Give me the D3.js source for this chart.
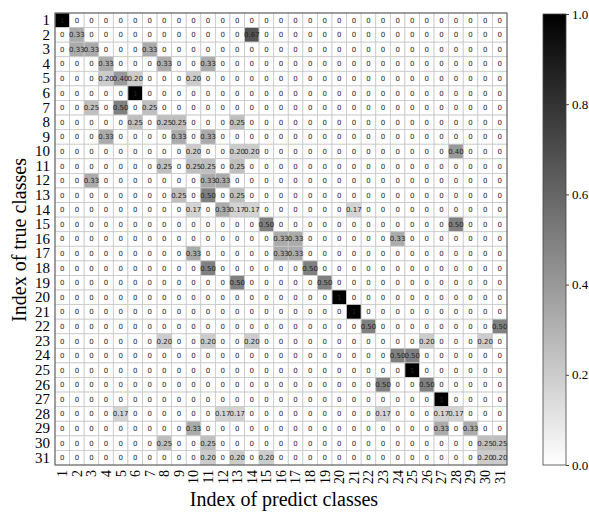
<!DOCTYPE html>
<html><head><meta charset="utf-8">
<script src="https://cdn.jsdelivr.net/npm/d3@7"></script>
<style>body{margin:0;background:#fff}</style>
</head><body>
<script>
const classLabels = ["1","2","3","4","5","6","7","8","9","10","11","12","13","14","15","16","17","18","19","20","21","22","23","24","25","26","27","28","29","30","31"];
// confusion matrix rows (true class) x columns (predicted class)
const matrix = [
[1,0,0,0,0,0,0,0,0,0,0,0,0,0,0,0,0,0,0,0,0,0,0,0,0,0,0,0,0,0,0],
[0,0.33,0,0,0,0,0,0,0,0,0,0,0,0.67,0,0,0,0,0,0,0,0,0,0,0,0,0,0,0,0,0],
[0,0.33,0.33,0,0,0,0.33,0,0,0,0,0,0,0,0,0,0,0,0,0,0,0,0,0,0,0,0,0,0,0,0],
[0,0,0,0.33,0,0,0,0.33,0,0,0.33,0,0,0,0,0,0,0,0,0,0,0,0,0,0,0,0,0,0,0,0],
[0,0,0,0.20,0.40,0.20,0,0,0,0.20,0,0,0,0,0,0,0,0,0,0,0,0,0,0,0,0,0,0,0,0,0],
[0,0,0,0,0,1,0,0,0,0,0,0,0,0,0,0,0,0,0,0,0,0,0,0,0,0,0,0,0,0,0],
[0,0,0.25,0,0.50,0,0.25,0,0,0,0,0,0,0,0,0,0,0,0,0,0,0,0,0,0,0,0,0,0,0,0],
[0,0,0,0,0,0.25,0,0.25,0.25,0,0,0,0.25,0,0,0,0,0,0,0,0,0,0,0,0,0,0,0,0,0,0],
[0,0,0,0.33,0,0,0,0,0.33,0,0.33,0,0,0,0,0,0,0,0,0,0,0,0,0,0,0,0,0,0,0,0],
[0,0,0,0,0,0,0,0,0,0.20,0,0,0.20,0.20,0,0,0,0,0,0,0,0,0,0,0,0,0,0.40,0,0,0],
[0,0,0,0,0,0,0,0.25,0,0.25,0.25,0,0.25,0,0,0,0,0,0,0,0,0,0,0,0,0,0,0,0,0,0],
[0,0,0.33,0,0,0,0,0,0,0,0.33,0.33,0,0,0,0,0,0,0,0,0,0,0,0,0,0,0,0,0,0,0],
[0,0,0,0,0,0,0,0,0.25,0,0.50,0,0.25,0,0,0,0,0,0,0,0,0,0,0,0,0,0,0,0,0,0],
[0,0,0,0,0,0,0,0,0,0.17,0,0.33,0.17,0.17,0,0,0,0,0,0,0.17,0,0,0,0,0,0,0,0,0,0],
[0,0,0,0,0,0,0,0,0,0,0,0,0,0,0.50,0,0,0,0,0,0,0,0,0,0,0,0,0.50,0,0,0],
[0,0,0,0,0,0,0,0,0,0,0,0,0,0,0,0.33,0.33,0,0,0,0,0,0,0.33,0,0,0,0,0,0,0],
[0,0,0,0,0,0,0,0,0,0.33,0,0,0,0,0,0.33,0.33,0,0,0,0,0,0,0,0,0,0,0,0,0,0],
[0,0,0,0,0,0,0,0,0,0,0.50,0,0,0,0,0,0,0.50,0,0,0,0,0,0,0,0,0,0,0,0,0],
[0,0,0,0,0,0,0,0,0,0,0,0,0.50,0,0,0,0,0,0.50,0,0,0,0,0,0,0,0,0,0,0,0],
[0,0,0,0,0,0,0,0,0,0,0,0,0,0,0,0,0,0,0,1,0,0,0,0,0,0,0,0,0,0,0],
[0,0,0,0,0,0,0,0,0,0,0,0,0,0,0,0,0,0,0,0,1,0,0,0,0,0,0,0,0,0,0],
[0,0,0,0,0,0,0,0,0,0,0,0,0,0,0,0,0,0,0,0,0,0.50,0,0,0,0,0,0,0,0,0.50],
[0,0,0,0,0,0,0,0.20,0,0,0.20,0,0,0.20,0,0,0,0,0,0,0,0,0,0,0,0.20,0,0,0,0.20,0],
[0,0,0,0,0,0,0,0,0,0,0,0,0,0,0,0,0,0,0,0,0,0,0,0.50,0.50,0,0,0,0,0,0],
[0,0,0,0,0,0,0,0,0,0,0,0,0,0,0,0,0,0,0,0,0,0,0,0,1,0,0,0,0,0,0],
[0,0,0,0,0,0,0,0,0,0,0,0,0,0,0,0,0,0,0,0,0,0,0.50,0,0,0.50,0,0,0,0,0],
[0,0,0,0,0,0,0,0,0,0,0,0,0,0,0,0,0,0,0,0,0,0,0,0,0,0,1,0,0,0,0],
[0,0,0,0,0.17,0,0,0,0,0,0,0.17,0.17,0,0,0,0,0,0,0,0,0,0.17,0,0,0,0.17,0.17,0,0,0],
[0,0,0,0,0,0,0,0,0,0.33,0,0,0,0,0,0,0,0,0,0,0,0,0,0,0,0,0.33,0,0.33,0,0],
[0,0,0,0,0,0,0,0.25,0,0,0.25,0,0,0,0,0,0,0,0,0,0,0,0,0,0,0,0,0,0,0.25,0.25],
[0,0,0,0,0,0,0,0,0,0,0.20,0,0.20,0,0.20,0,0,0,0,0,0,0,0,0,0,0,0,0,0,0.20,0.20]
];
const colorbarTicks = [0, 0.2, 0.4, 0.6, 0.8, 1.0];
const xTitle = "Index of predict classes";
const yTitle = "Index of true classes";

const W = 589, H = 514;
const svg = d3.select("body").append("svg").attr("width", W).attr("height", H);
const serif = "'Liberation Serif','Times New Roman',serif";

const x = d3.scaleBand().domain(classLabels).range([55, 507]);
const y = d3.scaleBand().domain(classLabels).range([13, 465]);
const color = d3.scaleLinear().domain([0, 1]).range(["#ffffff", "#000000"]);

const cells = [];
matrix.forEach((row, i) => row.forEach((v, j) => cells.push({r: classLabels[i], c: classLabels[j], v})));

const g = svg.append("g");
g.selectAll("rect.cell").data(cells).enter().append("rect")
  .attr("class", "cell")
  .attr("x", d => x(d.c)).attr("y", d => y(d.r))
  .attr("width", x.bandwidth()).attr("height", y.bandwidth())
  .attr("fill", d => color(d.v))
  .attr("stroke", "#c8c8c8").attr("stroke-width", 0.8);

const fmt = v => v === 0 ? "0" : (v === 1 ? "1" : v.toFixed(2));
g.selectAll("text.val").data(cells).enter().append("text")
  .attr("x", d => x(d.c) + x.bandwidth() / 2)
  .attr("y", d => y(d.r) + y.bandwidth() / 2)
  .attr("dy", "0.35em")
  .attr("text-anchor", "middle")
  .attr("font-family", "'DejaVu Sans',sans-serif")
  .attr("font-size", 7)
  .attr("fill", "#222")
  .text(d => fmt(d.v));

// border
svg.append("rect").attr("x", 55).attr("y", 13).attr("width", 452).attr("height", 452)
  .attr("fill", "none").attr("stroke", "#555").attr("stroke-width", 1);

// y axis labels
const yAxis = d3.axisLeft(y).tickSize(0).tickPadding(5);
const ya = svg.append("g").attr("transform", "translate(55,0)").call(yAxis);
ya.select(".domain").remove();
ya.selectAll("text").attr("font-family", serif).attr("font-size", 15).attr("fill", "#000");

// x axis labels
const xAxis = d3.axisBottom(x).tickSize(0).tickPadding(0);
const xa = svg.append("g").attr("transform", "translate(0,465)").call(xAxis);
xa.select(".domain").remove();
xa.selectAll("text")
  .attr("font-family", serif).attr("font-size", 14).attr("fill", "#000")
  .attr("text-anchor", "end")
  .attr("transform", "rotate(-90)")
  .attr("x", -5).attr("y", 0).attr("dy", "0.35em");

// titles
svg.append("text").attr("x", 284).attr("y", 506).attr("text-anchor", "middle")
  .attr("font-family", serif).attr("font-size", 20).text(xTitle);
svg.append("text").attr("transform", "translate(26,240) rotate(-90)").attr("text-anchor", "middle")
  .attr("font-family", serif).attr("font-size", 20).text(yTitle);

// colorbar
const cb = d3.scaleLinear().domain([0, 1]).range([465, 14]);
const defs = svg.append("defs");
const grad = defs.append("linearGradient").attr("id", "cbg").attr("x1", 0).attr("y1", 1).attr("x2", 0).attr("y2", 0);
grad.append("stop").attr("offset", "0%").attr("stop-color", color(0));
grad.append("stop").attr("offset", "100%").attr("stop-color", color(1));
svg.append("rect").attr("x", 543).attr("y", 14).attr("width", 23).attr("height", 451)
  .attr("fill", "url(#cbg)").attr("stroke", "#444").attr("stroke-width", 0.8);
const cbAxis = d3.axisRight(cb).tickValues(colorbarTicks).tickFormat(d3.format(".1f")).tickSize(3).tickPadding(3);
const ca = svg.append("g").attr("transform", "translate(566,0)").call(cbAxis);
ca.select(".domain").remove();
ca.selectAll("line").attr("stroke", "#444");
ca.selectAll("text").attr("font-family", serif).attr("font-size", 13).attr("fill", "#000");
</script>
</body></html>
